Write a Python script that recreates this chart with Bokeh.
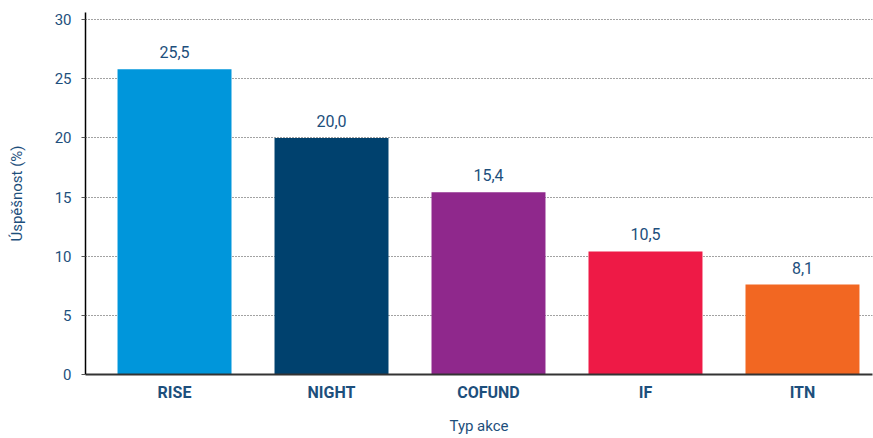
from bokeh.plotting import figure
from bokeh.models import ColumnDataSource, FixedTicker, Range1d
from bokeh.embed import file_html
from bokeh.resources import INLINE
from bokeh.core.properties import value

categories = ["RISE", "NIGHT", "COFUND", "IF", "ITN"]
success = [25.8, 20.0, 15.4, 10.4, 7.6]
value_labels = ["25,5", "20,0", "15,4", "10,5", "8,1"]
colors = ["#0096db", "#00416e", "#8f288c", "#ee1a46", "#f26722"]
y_ticks = [0, 5, 10, 15, 20, 25, 30]

FONT = "Roboto"
TXT = "#1d4f7c"

xs = list(range(len(categories)))
src = ColumnDataSource(dict(x=xs, top=success, color=colors, lab=value_labels))

p = figure(width=873, height=438, output_backend="svg", toolbar_location=None,
           x_range=Range1d(-0.567, 4.446), y_range=Range1d(0, 30.6),
           min_border_left=85, min_border_right=1, min_border_top=12, min_border_bottom=64)
p.outline_line_color = None
p.background_fill_color = "white"

p.vbar(x="x", top="top", width=0.726, color="color", source=src, line_color=None)
p.text(x="x", y="top", text="lab", source=src, text_align="center",
       text_baseline="alphabetic", y_offset=-17, text_color=TXT,
       text_font=value(FONT), text_font_size="16px")

# axes
p.xaxis.ticker = FixedTicker(ticks=xs)
p.xaxis.major_label_overrides = {i: c for i, c in zip(xs, categories)}
p.xaxis.major_tick_line_color = None
p.xaxis.major_tick_out = 0
p.xaxis.minor_tick_line_color = None
p.xaxis.major_label_text_font = FONT
p.xaxis.major_label_text_font_style = "bold"
p.xaxis.major_label_text_font_size = "16px"
p.xaxis.major_label_text_color = TXT
p.xaxis.major_label_standoff = 8
p.xaxis.axis_label = "Typ akce"
p.xaxis.axis_label_text_font = FONT
p.xaxis.axis_label_text_font_style = "normal"
p.xaxis.axis_label_text_font_size = "15px"
p.xaxis.axis_label_text_color = TXT
p.xaxis.axis_label_standoff = 12
p.xaxis.axis_line_color = "#333333"
p.xaxis.axis_line_width = 2

p.yaxis.ticker = FixedTicker(ticks=y_ticks)
p.yaxis.minor_tick_line_color = None
p.yaxis.major_tick_out = 4
p.yaxis.major_tick_in = 0
p.yaxis.major_tick_line_color = "#555555"
p.yaxis.major_label_standoff = 10
p.yaxis.major_label_text_font = FONT
p.yaxis.major_label_text_font_size = "15px"
p.yaxis.major_label_text_color = TXT
p.yaxis.axis_label = "Úspěšnost (%)"
p.yaxis.axis_label_text_font = FONT
p.yaxis.axis_label_text_font_style = "normal"
p.yaxis.axis_label_text_font_size = "15px"
p.yaxis.axis_label_text_color = TXT
p.yaxis.axis_label_standoff = 26
p.yaxis.axis_line_color = "black"
p.yaxis.axis_line_width = 1.5

p.xgrid.grid_line_color = None
p.ygrid.ticker = FixedTicker(ticks=y_ticks[1:])
p.ygrid.grid_line_color = "#444444"
p.ygrid.grid_line_dash = "1 2"
p.ygrid.grid_line_width = 1

open("out.html", "w").write(file_html(p, INLINE))
